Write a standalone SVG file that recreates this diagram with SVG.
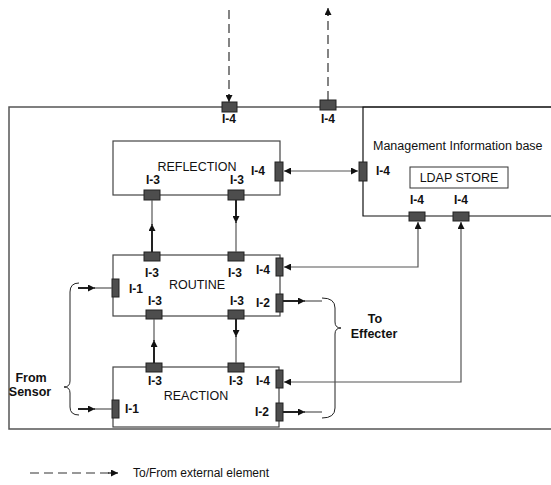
<svg xmlns="http://www.w3.org/2000/svg" width="551" height="485" viewBox="0 0 551 485">
<style>
text{font-family:"Liberation Sans",Arial,sans-serif;fill:#111}
.n{font-size:12.5px}
.b{font-size:12px;font-weight:bold}
.m{text-anchor:middle}
.box{fill:none;stroke:#444;stroke-width:1.2}
.port{fill:#4d4d4d;stroke:#222;stroke-width:1}
.ln{fill:none;stroke:#555;stroke-width:1.2}
.th{fill:none;stroke:#222;stroke-width:2}
.ds{fill:none;stroke:#333;stroke-width:1.2;stroke-dasharray:9 5}
</style>
<defs>
<marker id="ah" viewBox="0 0 10 10" refX="10" refY="5" markerWidth="7" markerHeight="7" markerUnits="userSpaceOnUse" orient="auto"><path d="M0,0 L10,5 L0,10 z" fill="#111"/></marker>
<marker id="as" viewBox="0 0 10 10" refX="0" refY="5" markerWidth="7" markerHeight="7" markerUnits="userSpaceOnUse" orient="auto"><path d="M10,0 L0,5 L10,10 z" fill="#111"/></marker>
</defs>

<g id="system">
<path d="M551 107 H9 V429 H551" fill="none" stroke="#555" stroke-width="1.5"/>
<rect class="port" x="222" y="102" width="15" height="10"/>
<rect class="port" x="320" y="100" width="16" height="10"/>
<text class="b m" x="229" y="123">I-4</text>
<text class="b m" x="328" y="123">I-4</text>
</g>

<g id="mib">
<path d="M551 107 H363 V216 H551" fill="none" stroke="#111" stroke-width="1.2"/>
<text class="n" x="373" y="150">Management Information base</text>
<rect class="port" x="359" y="162" width="8" height="19"/>
<text class="b m" x="383" y="175">I-4</text>
<rect class="port" x="409" y="212" width="16" height="9"/>
<rect class="port" x="453" y="212" width="16" height="9"/>
<text class="b m" x="417" y="204">I-4</text>
<text class="b m" x="461" y="204">I-4</text>
</g>

<g id="ldap">
<rect x="410" y="167" width="98" height="21" fill="#fff" stroke="#333" stroke-width="1"/>
<text class="n m" x="459" y="182">LDAP STORE</text>
</g>

<g id="reflection">
<rect class="box" x="113" y="141" width="167" height="54"/>
<text class="n m" x="197" y="171">REFLECTION</text>
<rect class="port" x="144" y="190" width="16" height="10"/>
<rect class="port" x="228" y="190" width="16" height="10"/>
<rect class="port" x="275" y="162" width="8" height="19"/>
<text class="b m" x="153" y="184">I-3</text>
<text class="b m" x="237" y="184">I-3</text>
<text class="b m" x="258" y="175">I-4</text>
</g>

<g id="routine">
<rect class="box" x="113" y="255" width="167" height="61"/>
<text class="n m" x="197" y="289">ROUTINE</text>
<rect class="port" x="144" y="252" width="16" height="9"/>
<rect class="port" x="228" y="252" width="16" height="9"/>
<rect class="port" x="146" y="310" width="16" height="9"/>
<rect class="port" x="228" y="310" width="16" height="9"/>
<rect class="port" x="112" y="279" width="7" height="18"/>
<rect class="port" x="276" y="258" width="7" height="18"/>
<rect class="port" x="276" y="294" width="7" height="18"/>
<text class="b m" x="152" y="277">I-3</text>
<text class="b m" x="235" y="277">I-3</text>
<text class="b m" x="155" y="305">I-3</text>
<text class="b m" x="237" y="305">I-3</text>
<text class="b m" x="136" y="293">I-1</text>
<text class="b m" x="263" y="274">I-4</text>
<text class="b m" x="263" y="307">I-2</text>
</g>

<g id="reaction">
<rect class="box" x="113" y="367" width="166" height="60"/>
<text class="n m" x="196" y="400">REACTION</text>
<rect class="port" x="146" y="363" width="16" height="9"/>
<rect class="port" x="228" y="363" width="16" height="9"/>
<rect class="port" x="112" y="400" width="7" height="18"/>
<rect class="port" x="276" y="370" width="7" height="18"/>
<rect class="port" x="276" y="403" width="7" height="18"/>
<text class="b m" x="155" y="385">I-3</text>
<text class="b m" x="236" y="385">I-3</text>
<text class="b m" x="263" y="385">I-4</text>
<text class="b m" x="132" y="413">I-1</text>
<text class="b m" x="262" y="416">I-2</text>
</g>

<g id="sensor">
<path d="M79 283 Q70 283 70 292 V381 Q70 387 64 387 Q70 387 70 393 V407 Q70 415 79 415" fill="none" stroke="#222" stroke-width="1"/>
<text class="b m" x="31" y="382" style="font-size:12.5px">From</text>
<text class="b m" x="30" y="396" style="font-size:12.5px">Sensor</text>
</g>

<g id="effecter">
<path d="M322 298 Q335 298 335 308 V322 Q335 328 341 328 Q335 328 335 334 V408 Q335 418 322 418" fill="none" stroke="#222" stroke-width="1"/>
<text class="b m" x="375" y="323" style="font-size:12.5px">To</text>
<text class="b m" x="374" y="338" style="font-size:12.5px">Effecter</text>
</g>

<g id="legend">
<line class="ds" x1="30" y1="473" x2="111" y2="473"/>
<line x1="108" y1="473" x2="118" y2="473" stroke="#111" stroke-width="1.2" marker-end="url(#ah)"/>
<text class="n" x="133" y="477" style="font-size:12px">To/From external element</text>
</g>

<g id="connectors">
<line class="ds" x1="229" y1="10" x2="229" y2="96"/>
<line x1="229" y1="94" x2="229" y2="102" stroke="#333" stroke-width="1.2" marker-end="url(#ah)"/>
<line class="ds" x1="328" y1="100" x2="328" y2="15"/>
<line x1="328" y1="16" x2="328" y2="8" stroke="#333" stroke-width="1.2" marker-end="url(#ah)"/>

<line class="ln" x1="284" y1="171" x2="358" y2="171" marker-start="url(#as)" marker-end="url(#ah)"/>
<path class="ln" d="M418 222 V267 H284" marker-start="url(#as)" marker-end="url(#ah)"/>
<path class="ln" d="M461 222 V382 H284" stroke="#111" marker-start="url(#as)" marker-end="url(#ah)"/>

<line class="th" x1="152" y1="252" x2="152" y2="224" marker-end="url(#ah)"/>
<line class="ln" x1="152" y1="226" x2="152" y2="200"/>
<line class="th" x1="236" y1="200" x2="236" y2="223" marker-end="url(#ah)"/>
<line class="ln" x1="236" y1="221" x2="236" y2="252"/>

<line class="th" x1="154" y1="363" x2="154" y2="340" marker-end="url(#ah)"/>
<line class="ln" x1="154" y1="342" x2="154" y2="319"/>
<line class="th" x1="236" y1="319" x2="236" y2="337" marker-end="url(#ah)"/>
<line class="ln" x1="236" y1="335" x2="236" y2="363"/>

<line class="th" x1="78" y1="288" x2="95" y2="288" stroke-width="1.6" marker-end="url(#ah)"/>
<line class="ln" x1="93" y1="288" x2="112" y2="288"/>
<line class="th" x1="78" y1="409" x2="95" y2="409" stroke-width="1.6" marker-end="url(#ah)"/>
<line class="ln" x1="93" y1="409" x2="112" y2="409"/>

<line class="th" x1="283" y1="301" x2="305" y2="301" stroke-width="1.6" marker-end="url(#ah)"/>
<line class="ln" x1="303" y1="301" x2="322" y2="301"/>
<line class="th" x1="283" y1="412" x2="305" y2="412" stroke-width="1.2" marker-end="url(#ah)"/>
<line class="ln" x1="303" y1="412" x2="322" y2="412"/>
</g>
</svg>
